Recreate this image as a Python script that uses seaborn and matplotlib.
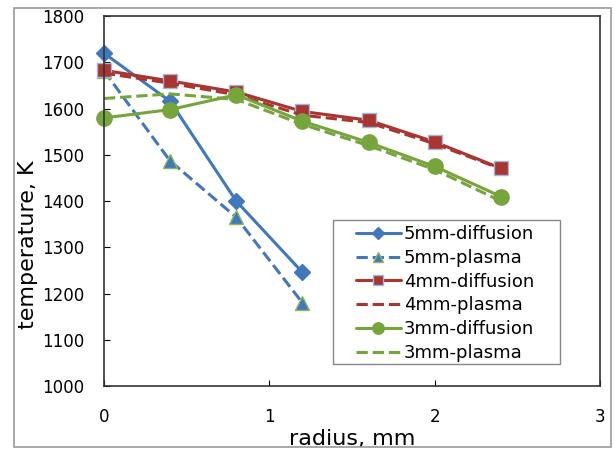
import pandas as pd
import seaborn as sns
import matplotlib.pyplot as plt
from matplotlib.patches import Rectangle

# radius positions, mm
radius_5mm = [0, 0.4, 0.8, 1.2]
radius_long = [0, 0.4, 0.8, 1.2, 1.6, 2.0, 2.4]

# temperatures, K
t_5mm_diff = [1720, 1616, 1400, 1246]
t_5mm_plasma = [1682, 1487, 1365, 1180]
t_4mm_diff = [1683, 1660, 1636, 1594, 1575, 1528, 1471]
t_4mm_plasma = [1677, 1655, 1630, 1586, 1570, 1524, 1470]
t_3mm_diff = [1580, 1598, 1630, 1573, 1527, 1475, 1410]
t_3mm_plasma = [1622, 1632, 1620, 1566, 1520, 1468, 1400]

series = [
    ("5mm-diffusion", radius_5mm, t_5mm_diff),
    ("5mm-plasma", radius_5mm, t_5mm_plasma),
    ("4mm-diffusion", radius_long, t_4mm_diff),
    ("4mm-plasma", radius_long, t_4mm_plasma),
    ("3mm-diffusion", radius_long, t_3mm_diff),
    ("3mm-plasma", radius_long, t_3mm_plasma),
]

rows = []
for name, xs, ys in series:
    for x, y in zip(xs, ys):
        rows.append({"series": name, "radius": x, "temp": y})
df = pd.DataFrame(rows)

blue = "#4178BC"
red = "#AA3430"
green = "#76A53C"

styles = {
    "5mm-diffusion": dict(color=blue, ls="-", marker="D", ms=8, mfc=blue, mec=blue),
    "5mm-plasma": dict(color=blue, ls="--", marker="^", ms=10, mfc=blue, mec="#8DB858"),
    "4mm-diffusion": dict(color=red, ls="-", marker="s", ms=9.5, mfc=red, mec="#9DB8E0"),
    "4mm-plasma": dict(color=red, ls="--", marker=None),
    "3mm-diffusion": dict(color=green, ls="-", marker="o", ms=11, mfc=green, mec=green),
    "3mm-plasma": dict(color=green, ls="--", marker=None),
}

sns.set_style("white")
plt.rcParams["font.family"] = ["DejaVu Sans"]
plt.rcParams["text.color"] = "black"
plt.rcParams["axes.labelcolor"] = "black"
plt.rcParams["xtick.color"] = "black"
plt.rcParams["ytick.color"] = "black"

fig = plt.figure(figsize=(6.15, 4.5), dpi=100)
ax = fig.add_axes([0.169, 0.142, 0.807, 0.822])

for name, _, _ in series:
    st = styles[name]
    sub = df[df.series == name]
    sns.lineplot(data=sub, x="radius", y="temp", ax=ax, label=name,
                 color=st["color"], linestyle=st["ls"], linewidth=2.2,
                 marker=st["marker"], markersize=st.get("ms", 0),
                 markerfacecolor=st.get("mfc"), markeredgecolor=st.get("mec"),
                 markeredgewidth=1, clip_on=False)

ax.set_xlim(0, 3)
ax.set_ylim(1000, 1800)
ax.set_xticks([0, 1, 2, 3])
ax.set_yticks(range(1000, 1801, 100))
ax.tick_params(axis="both", labelsize=12, direction="in", length=4,
               width=0.8, left=True, bottom=True)
ax.tick_params(axis="y", pad=14)
ax.tick_params(axis="x", pad=16)
for s in ax.spines.values():
    s.set_color("#333333")
    s.set_linewidth(1.2)

ax.set_xlabel("radius, mm", fontsize=16)
ax.set_ylabel("temperature, K", fontsize=16)
ax.xaxis.set_label_coords(0.5, -0.116)
ax.yaxis.set_label_coords(-0.133, 0.381)

# legend text and handles, frame drawn separately
leg = ax.legend(loc="upper left", bbox_to_anchor=(0.504, 0.44), fontsize=13,
                frameon=False, handlelength=2.5, handletextpad=0.15,
                borderpad=0.1, borderaxespad=0, labelspacing=0.32)
for h in leg.legend_handles:
    h.set_markersize(h.get_markersize() * 0.75)
ax.add_patch(Rectangle((0.4617, 0.0595), 0.457, 0.389, transform=ax.transAxes,
                       fill=True, facecolor="white", edgecolor="#888888",
                       linewidth=1, zorder=4))
leg.set_zorder(5)

# grey frame around the whole chart
fig.patches.append(Rectangle((0.022, 0.006), 0.972, 0.976, transform=fig.transFigure,
                             fill=False, edgecolor="#9a9a9a", linewidth=1.2))

fig.savefig("out.png", dpi=100)
